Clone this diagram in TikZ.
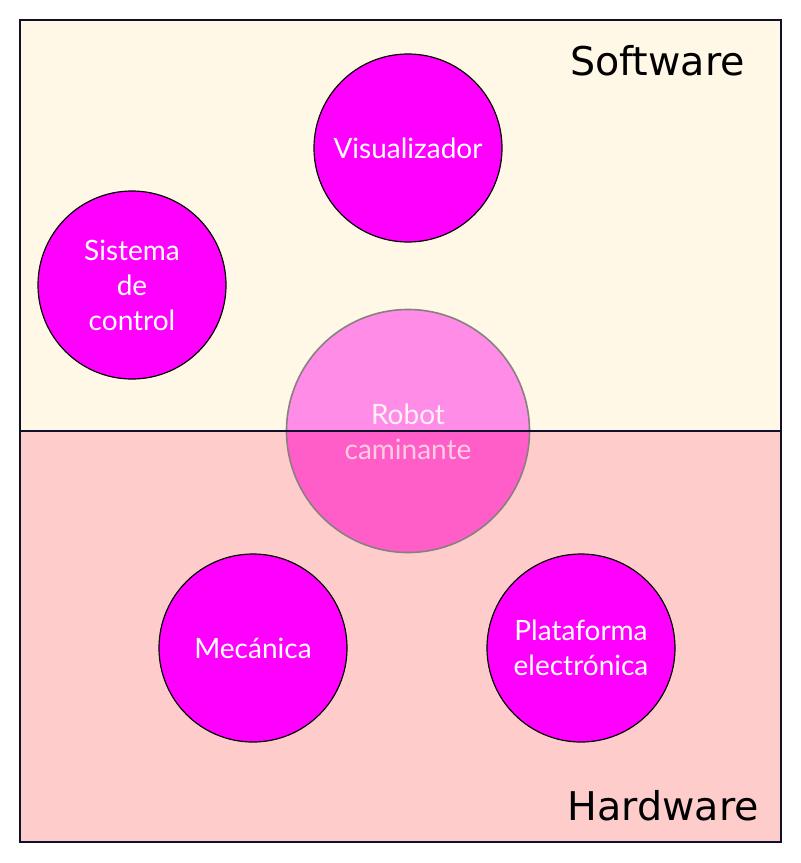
\documentclass[tikz,border=0pt]{standalone}
\usepackage{fontspec}
\setmainfont{Lato}
\newfontfamily\labelfont{DejaVu Sans}
\definecolor{creamfill}{HTML}{FFF8E6}
\definecolor{pinkfill}{HTML}{FFCCCC}
\definecolor{framecol}{HTML}{10102A}
\definecolor{mag}{HTML}{FF00FF}
\definecolor{robtop}{HTML}{FF8CE6}
\definecolor{robbot}{HTML}{FF5EC8}
\definecolor{robedge}{HTML}{888080}
\definecolor{robtxtA}{HTML}{FFF0FA}
\definecolor{robtxtB}{HTML}{FFCCE2}
\begin{document}
\begin{tikzpicture}[x=1pt,y=-1pt,
  bubble/.style={circle, draw=black, line width=1.2pt, fill=mag, minimum size=188pt, inner sep=0pt,
    text=white, align=center, font=\fontsize{28}{35}\selectfont},
  zonelabel/.style={font=\labelfont\fontsize{39.6}{44}\selectfont, text=black, inner sep=0pt}]
\useasboundingbox (0,0) rectangle (801,863);
\fill[creamfill] (20,20) rectangle (781,431);
\fill[pinkfill] (20,431) rectangle (781,842);
\node[bubble] (vis) at (408,148) {Visualizador};
\node[bubble] (sis) at (132,285) {Sistema\\de\\control};
\node[bubble] (mec) at (253,648) {Mecánica};
\node[bubble] (pla) at (581,648) {Plataforma\\electrónica};
\node[circle, minimum size=243pt, inner sep=0pt] (rob) at (408,431) {};
\begin{scope}
  \clip (20,20) rectangle (781,431);
  \fill[robtop] (rob.center) circle (121.5);
\end{scope}
\begin{scope}
  \clip (20,431) rectangle (781,842);
  \fill[robbot] (rob.center) circle (121.5);
\end{scope}
\draw[robedge, line width=1.6pt] (rob.center) circle (121.5);
\node[text=robtxtA, font=\fontsize{28}{35}\selectfont, anchor=base] (robA) at (408,424) {Robot};
\node[text=robtxtB, font=\fontsize{28}{35}\selectfont, anchor=base] (robB) at (408,459) {caminante};
\coordinate (dl) at (20,431);
\coordinate (dr) at (781,431);
\draw[framecol, line width=1.6pt] (dl) -- (dr);
\draw[framecol, line width=1.6pt] (20,20) rectangle (781,842);
\node[zonelabel, anchor=base east] (sw) at (745,75) {Software};
\node[zonelabel, anchor=base east] (hw) at (759,820) {Hardware};
\end{tikzpicture}
\end{document}
